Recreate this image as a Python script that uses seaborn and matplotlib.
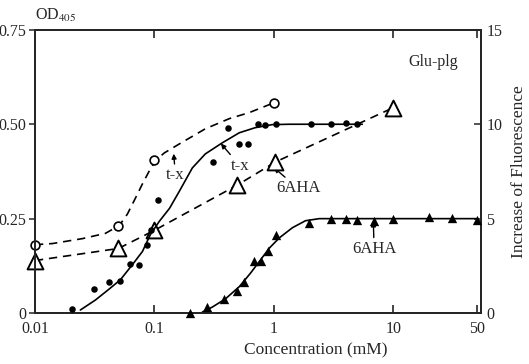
import matplotlib
matplotlib.use("Agg")
import matplotlib.pyplot as plt
import matplotlib.ticker as mticker
import seaborn as sns

# ---------------- data ----------------
# open circles, t-x, OD405 (left axis)
tx_od_x = [0.01, 0.05, 0.1, 1.0]
tx_od_y = [0.18, 0.23, 0.405, 0.555]
# dashed guide curve through the open circles
tx_od_curve_x = [0.01, 0.014, 0.0249, 0.0389, 0.0509, 0.0594, 0.0693, 0.0794, 0.0926,
                 0.104, 0.121, 0.162, 0.267, 0.425, 0.624, 0.916, 1.0]
tx_od_curve_y = [0.181, 0.184, 0.197, 0.211, 0.232, 0.262, 0.304, 0.342, 0.382,
                 0.406, 0.424, 0.448, 0.488, 0.515, 0.531, 0.552, 0.555]

# open triangles, 6AHA, OD405 (left axis)
aha_od_x = [0.01, 0.05, 0.1, 0.495, 1.03, 10.0]
aha_od_y = [0.139, 0.171, 0.219, 0.339, 0.40, 0.544]

# filled circles, t-x, fluorescence (right axis)
tx_fl_x = [0.0206, 0.0315, 0.042, 0.052, 0.063, 0.075, 0.087, 0.093, 0.108, 0.31,
           0.416, 0.51, 0.61, 0.73, 0.85, 1.05, 2.06, 3.0, 4.0, 5.0]
tx_fl_y = [0.22, 1.28, 1.66, 1.7, 2.62, 2.56, 3.58, 4.38, 5.98, 8.0,
           9.82, 8.96, 8.96, 10.0, 9.94, 10.0, 10.0, 10.0, 10.05, 10.0]
tx_fl_curve_x = [0.024, 0.0321, 0.042, 0.0519, 0.0654, 0.0794, 0.0926, 0.110, 0.134,
                 0.162, 0.208, 0.267, 0.371, 0.514, 0.70, 0.97, 1.35, 5.5]
tx_fl_curve_y = [0.16, 0.69, 1.28, 1.76, 2.56, 3.26, 4.16, 4.86, 5.55,
                 6.46, 7.69, 8.43, 9.02, 9.55, 9.82, 9.98, 10.0, 10.0]

# filled triangles, 6AHA, fluorescence (right axis)
aha_fl_x = [0.2, 0.278, 0.385, 0.495, 0.567, 0.687, 0.785, 0.9, 1.05, 1.98,
            3.0, 4.0, 5.0, 6.9, 10.0, 20.0, 31.0, 50.0]
aha_fl_y = [0.0, 0.32, 0.75, 1.18, 1.67, 2.74, 2.74, 3.28, 4.14, 4.78,
            5.0, 5.0, 4.95, 4.9, 5.0, 5.08, 5.05, 4.95]
aha_fl_curve_x = [0.252, 0.306, 0.393, 0.514, 0.635, 0.77, 0.916, 1.11, 1.43, 1.84,
                  2.4, 3.0, 10.0, 50.0]
aha_fl_curve_y = [0.05, 0.32, 0.75, 1.40, 2.10, 2.80, 3.44, 3.98, 4.52, 4.89,
                  5.0, 5.0, 5.0, 5.0]

x_ticks = [0.01, 0.1, 1, 10, 50]
x_ticklabels = ["0.01", "0.1", "1", "10", "50"]
left_ticks = [0, 0.25, 0.5, 0.75]
left_ticklabels = ["0", "0.25", "0.50", "0.75"]
right_ticks = [0, 5, 10, 15]
right_ticklabels = ["0", "5", "10", "15"]

# ---------------- styling ----------------
sns.set_style("ticks")
plt.rcParams["font.family"] = ["Liberation Serif", "DejaVu Serif"]
plt.rcParams["mathtext.fontset"] = "stix"

fig = plt.figure(figsize=(5.29, 3.64), dpi=100)
ax = fig.add_axes([0.066, 0.140, 0.843, 0.778])
ax2 = ax.twinx()

dash = (0, (5, 3.5))
lw = 1.2

# dashed curves (left axis)
sns.lineplot(x=tx_od_curve_x, y=tx_od_curve_y, ax=ax, color="black", lw=lw,
             linestyle=dash, sort=False, estimator=None)
sns.lineplot(x=aha_od_x, y=aha_od_y, ax=ax, color="black", lw=lw,
             linestyle=dash, sort=False, estimator=None)
sns.scatterplot(x=tx_od_x, y=tx_od_y, ax=ax, marker="o", s=40,
                facecolor="white", edgecolor="black", linewidth=1.2, zorder=5,
                clip_on=False)
sns.scatterplot(x=aha_od_x, y=aha_od_y, ax=ax, marker="^", s=130,
                facecolor="white", edgecolor="black", linewidth=1.4, zorder=5,
                clip_on=False)

# solid curves (right axis)
sns.lineplot(x=tx_fl_curve_x, y=tx_fl_curve_y, ax=ax2, color="black", lw=lw,
             sort=False, estimator=None)
sns.lineplot(x=aha_fl_curve_x, y=aha_fl_curve_y, ax=ax2, color="black", lw=lw,
             sort=False, estimator=None)
sns.scatterplot(x=tx_fl_x, y=tx_fl_y, ax=ax2, marker="o", s=22,
                color="black", linewidth=0, zorder=5)
sns.scatterplot(x=aha_fl_x, y=aha_fl_y, ax=ax2, marker="^", s=45,
                color="black", linewidth=0, zorder=5, clip_on=False)

ax.set_xscale("log")
ax.set_xlim(0.01, 54)
ax.set_ylim(0, 0.75)
ax2.set_ylim(0, 15)

ax.set_xticks(x_ticks)
ax.set_xticklabels(x_ticklabels, fontsize=11.5)
ax.xaxis.set_minor_locator(mticker.NullLocator())
ax.set_yticks(left_ticks)
ax.set_yticklabels(left_ticklabels, fontsize=11.5)
ax2.set_yticks(right_ticks)
ax2.set_yticklabels(right_ticklabels, fontsize=11.5)

ax.xaxis.set_ticks_position("both")
ax.tick_params(axis="x", which="major", direction="in", length=6, width=1.2,
               top=True, bottom=True, pad=6)
ax.tick_params(axis="y", direction="out", length=4, width=1.1, pad=2)
ax2.tick_params(axis="y", direction="in", length=5, width=1.1, pad=4)

for a in (ax, ax2):
    for sp in a.spines.values():
        sp.set_linewidth(1.4)
        sp.set_visible(True)

ax.set_xlabel("Concentration (mM)", fontsize=12.5)
ax.xaxis.set_label_coords(0.63, -0.105)
ax.set_ylabel("")
ax2.set_ylabel("Increase of Fluorescence", fontsize=12.5, labelpad=6)

fig.text(0.066, 0.958, r"OD$_{405}$", fontsize=11.5, ha="left", va="center")
ax.text(0.892, 0.887, "Glu-plg", transform=ax.transAxes, fontsize=11.5,
        ha="center", va="center")

# annotations
ann = dict(arrowprops=dict(arrowstyle="-|>", color="black", lw=1.0,
                           mutation_scale=7, shrinkA=0, shrinkB=0),
           fontsize=12, ha="center", va="center")
ax.annotate("t-x", xy=(0.145, 0.422), xytext=(0.15, 0.365), **ann)
ax.annotate("t-x", xy=(0.36, 0.449), xytext=(0.52, 0.39), **ann)
ax.annotate("6AHA", xy=(1.0, 0.385), xytext=(1.6, 0.33), **ann)
ax2.annotate("6AHA", xy=(6.8, 4.85), xytext=(6.9, 3.4), **ann)

fig.savefig("out.png", dpi=100)
